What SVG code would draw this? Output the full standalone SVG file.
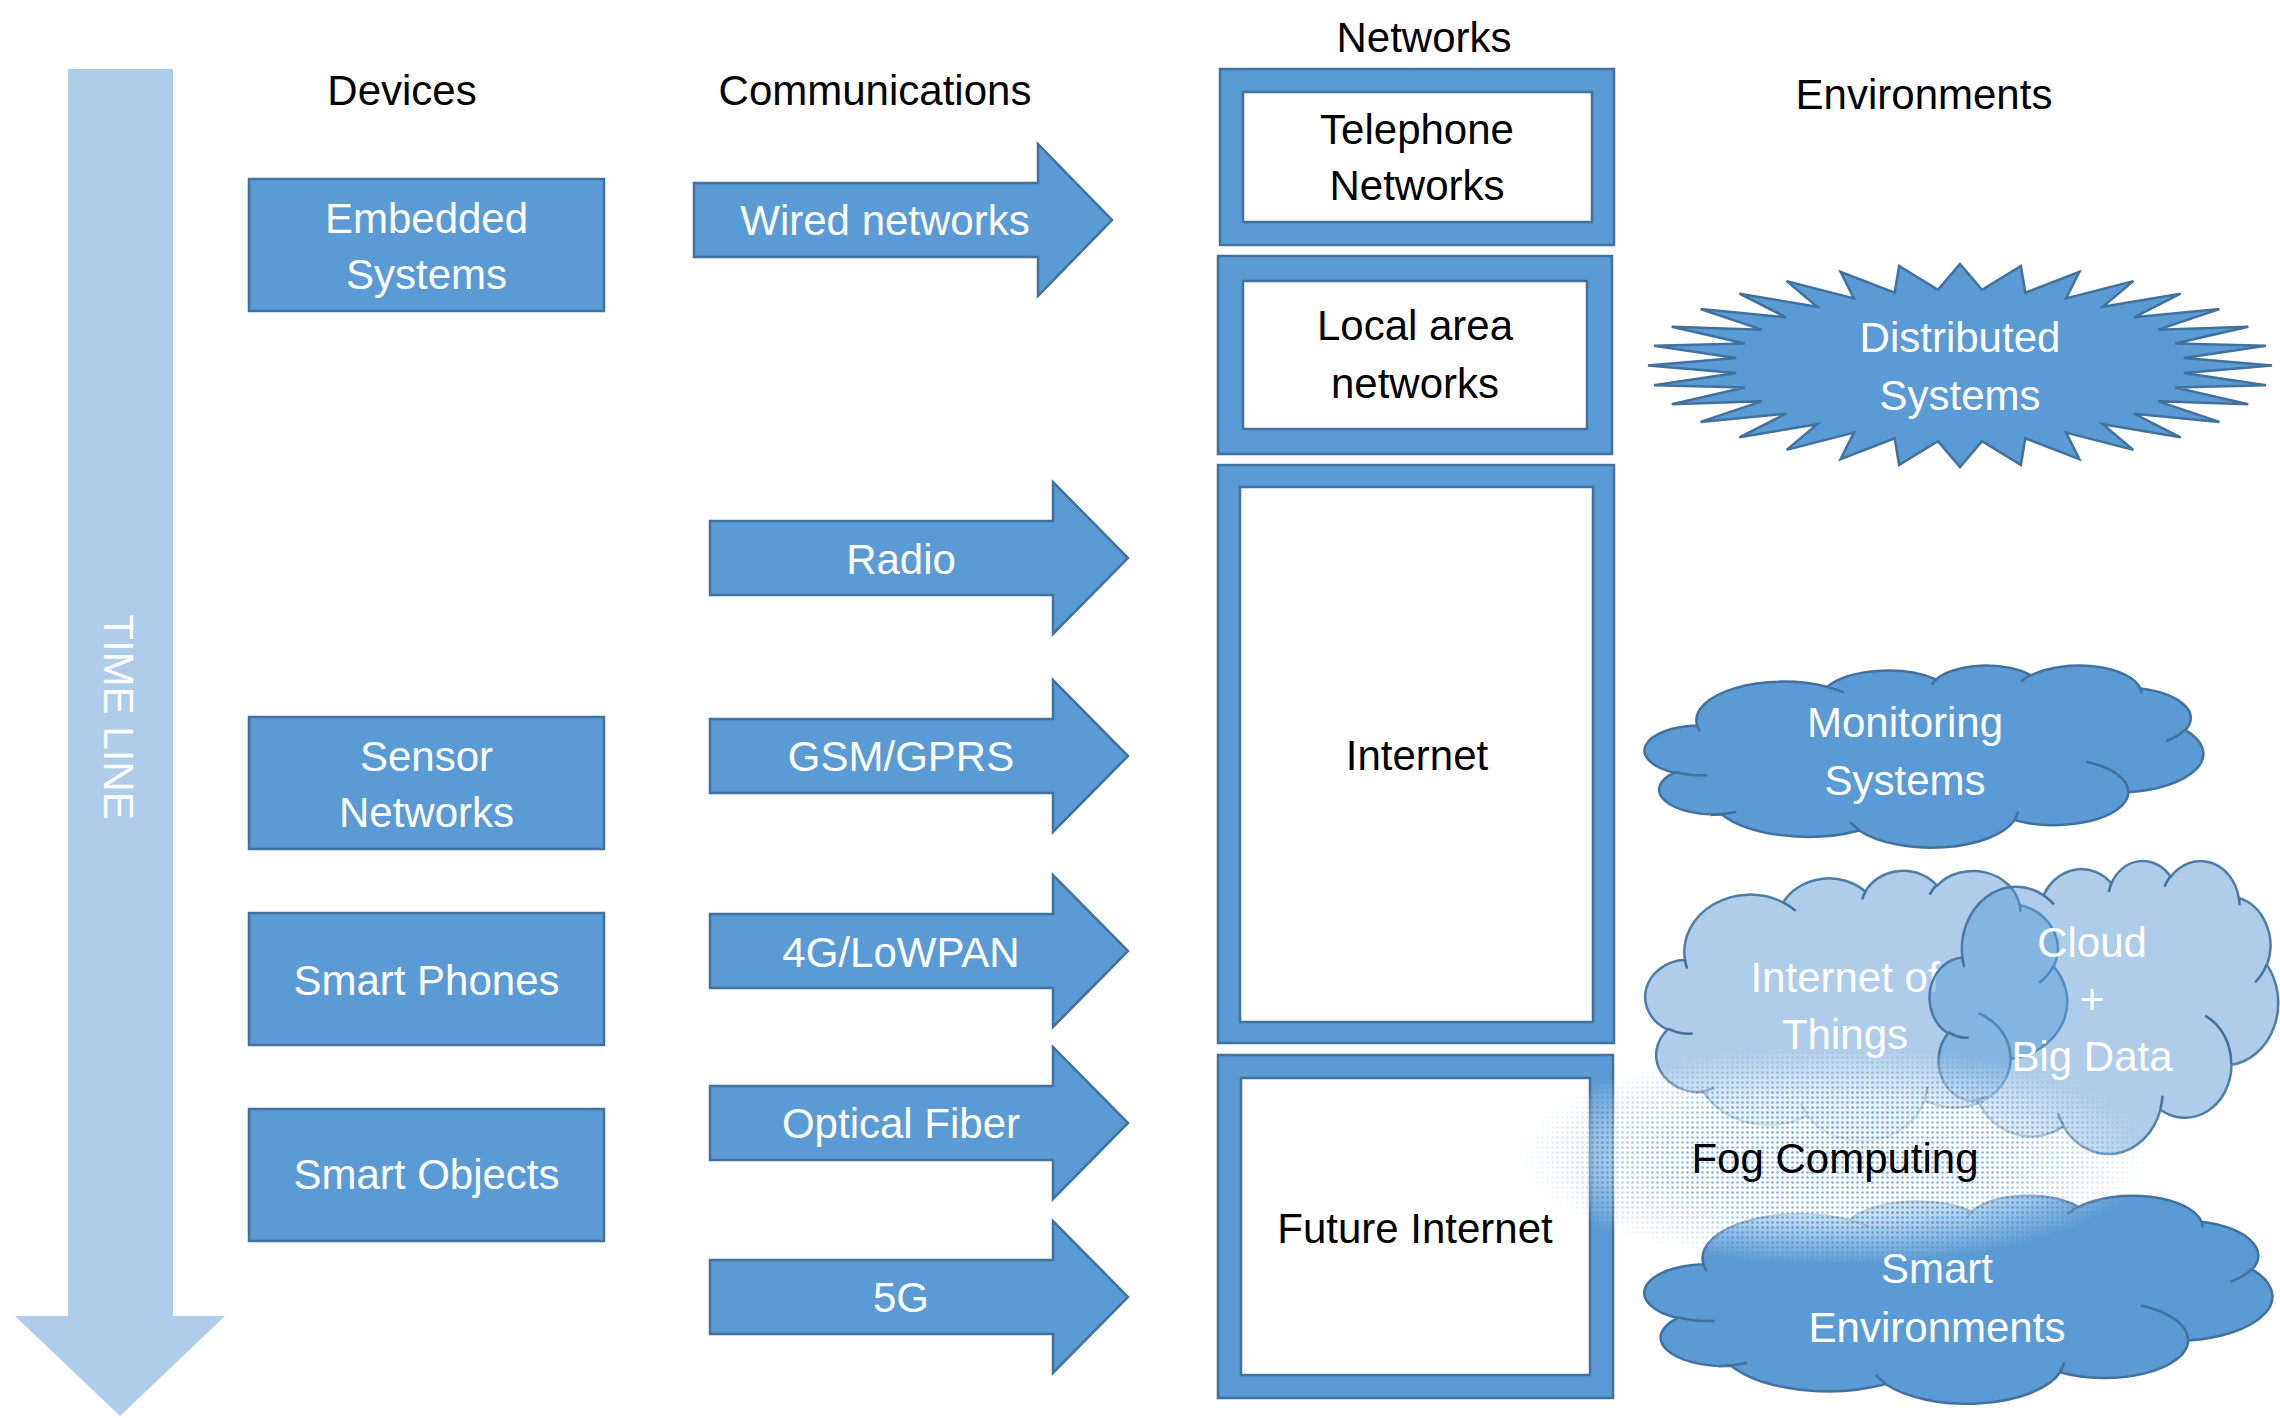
<svg xmlns="http://www.w3.org/2000/svg" width="2280" height="1418" viewBox="0 0 2280 1418">
<defs>
<style>
text{font-family:"Liberation Sans",Arial,sans-serif;font-size:42px;text-anchor:middle}
.blk{fill:#000}
.wt{fill:#fff}
.shape{fill:#5B9BD5;stroke:#41719C;stroke-width:2.5}
.inner{fill:#fff;stroke:#41719C;stroke-width:2.5}
.cloud{fill:#5B9BD5;stroke:#41719C;stroke-width:2.5}
.cloudlt{fill:#5B9BD5;fill-opacity:0.5;stroke:#41719C;stroke-opacity:0.9;stroke-width:2.5}
.cl-in{fill:none;stroke:#41719C;stroke-width:2.5}
</style>
<pattern id="fogdots" width="5" height="5" patternUnits="userSpaceOnUse">
<rect width="5" height="5" fill="#ffffff"/>
<circle cx="2.5" cy="2.5" r="1.3" fill="#5B9BD5"/>
</pattern>
<radialGradient id="foggrad" cx="0.5" cy="0.5" r="0.5">
<stop offset="0" stop-color="#fff" stop-opacity="0.9"/>
<stop offset="0.55" stop-color="#fff" stop-opacity="0.7"/>
<stop offset="1" stop-color="#fff" stop-opacity="0"/>
</radialGradient>
<mask id="fogmask" maskUnits="userSpaceOnUse" x="1400" y="1000" width="880" height="330">
<ellipse cx="1835" cy="1155" rx="320" ry="110" fill="url(#foggrad)"/>
</mask>
</defs>
<rect width="2280" height="1418" fill="#fff"/>

<g id="timeline">
<path d="M68,69 H173 V1316 H225 L120,1416 L15,1316 H68 Z" fill="#ADCDEA"/>
<text class="wt" font-size="39" transform="translate(104,717) rotate(90)">TIME LINE</text>
</g>

<g id="headers">
<text class="blk" x="402" y="105">Devices</text>
<text class="blk" x="875" y="105">Communications</text>
<text class="blk" x="1424" y="52">Networks</text>
<text class="blk" x="1924" y="109">Environments</text>
</g>

<g id="embedded-systems">
<rect class="shape" x="249" y="179" width="355" height="132"/>
<text class="wt" x="426.5" y="233">Embedded</text>
<text class="wt" x="426.5" y="289">Systems</text>
</g>
<g id="sensor-networks">
<rect class="shape" x="249" y="717" width="355" height="132"/>
<text class="wt" x="426.5" y="771">Sensor</text>
<text class="wt" x="426.5" y="827">Networks</text>
</g>
<g id="smart-phones">
<rect class="shape" x="249" y="913" width="355" height="132"/>
<text class="wt" x="426.5" y="995">Smart Phones</text>
</g>
<g id="smart-objects">
<rect class="shape" x="249" y="1109" width="355" height="132"/>
<text class="wt" x="426.5" y="1189">Smart Objects</text>
</g>

<g id="connectors">
<g id="wired-networks">
<path class="shape" d="M694,183 H1038 V144 L1112,220 L1038,296 V257 H694 Z"/>
<text class="wt" x="885" y="235">Wired networks</text>
</g>
<g id="radio">
<path class="shape" d="M710,521 H1053 V482 L1128,558 L1053,634 V595 H710 Z"/>
<text class="wt" x="901" y="574">Radio</text>
</g>
<g id="gsm-gprs">
<path class="shape" d="M710,719 H1053 V680 L1128,756 L1053,832 V793 H710 Z"/>
<text class="wt" x="901" y="771">GSM/GPRS</text>
</g>
<g id="4g-lowpan">
<path class="shape" d="M710,914 H1053 V875 L1128,951 L1053,1027 V988 H710 Z"/>
<text class="wt" x="901" y="967">4G/LoWPAN</text>
</g>
<g id="optical-fiber">
<path class="shape" d="M710,1086 H1053 V1047 L1128,1123 L1053,1199 V1160 H710 Z"/>
<text class="wt" x="901" y="1138">Optical Fiber</text>
</g>
<g id="5g">
<path class="shape" d="M710,1260 H1053 V1221 L1128,1297 L1053,1373 V1334 H710 Z"/>
<text class="wt" x="901" y="1312">5G</text>
</g>
</g>

<g id="telephone-networks">
<rect class="shape" x="1220" y="69" width="394" height="176"/>
<rect class="inner" x="1243" y="92" width="349" height="130"/>
<text class="blk" x="1417" y="144">Telephone</text>
<text class="blk" x="1417" y="200">Networks</text>
</g>
<g id="local-area-networks">
<rect class="shape" x="1218" y="256" width="394" height="198"/>
<rect class="inner" x="1243" y="281" width="344" height="148"/>
<text class="blk" x="1415" y="340">Local area</text>
<text class="blk" x="1415" y="398">networks</text>
</g>
<g id="internet">
<rect class="shape" x="1218" y="465" width="396" height="578"/>
<rect class="inner" x="1240" y="487" width="353" height="535"/>
<text class="blk" x="1417" y="770">Internet</text>
</g>
<g id="future-internet">
<rect class="shape" x="1218" y="1055" width="395" height="343"/>
<rect class="inner" x="1241" y="1078" width="349" height="297"/>
<text class="blk" x="1415" y="1243">Future Internet</text>
</g>

<g id="distributed-systems">
<path class="shape" d="M1960,264 L1982.05,289.87 L2020.87,265.95 L2025.31,292.77 L2079.4,271.73 L2066.07,298.47 L2133.34,281.11 L2102.74,306.75 L2180.62,293.73 L2133.93,317.29 L2219.42,309.11 L2158.43,329.67 L2248.25,326.66 L2175.31,343.44 L2266.01,345.7 L2183.92,358.05 L2272,365.5 L2183.92,372.95 L2266.01,385.3 L2175.31,387.56 L2248.25,404.34 L2158.43,401.33 L2219.42,421.89 L2133.93,413.71 L2180.62,437.27 L2102.74,424.25 L2133.34,449.89 L2066.07,432.53 L2079.4,459.27 L2025.31,438.23 L2020.87,465.05 L1982.05,441.13 L1960,467 L1937.95,441.13 L1899.13,465.05 L1894.69,438.23 L1840.6,459.27 L1853.93,432.53 L1786.66,449.89 L1817.26,424.25 L1739.38,437.27 L1786.07,413.71 L1700.58,421.89 L1761.57,401.33 L1671.75,404.34 L1744.69,387.56 L1653.99,385.3 L1736.08,372.95 L1648,365.5 L1736.08,358.05 L1653.99,345.7 L1744.69,343.44 L1671.75,326.66 L1761.57,329.67 L1700.58,309.11 L1786.07,317.29 L1739.38,293.73 L1817.26,306.75 L1786.66,281.11 L1853.93,298.47 L1840.6,271.73 L1894.69,292.77 L1899.13,265.95 L1937.95,289.87 Z"/>
<text class="wt" x="1960" y="352">Distributed</text>
<text class="wt" x="1960" y="410">Systems</text>
</g>

<g id="monitoring-systems">
<g transform="translate(1647,665) scale(5.56,1.82)">
<path class="cloud" vector-effect="non-scaling-stroke" d="M9.03,33.26 A15.63,21.27 0 0 1 32.42,12.04 A12.34,16.82 0 0 1 51.99,7.95 A10.1,13.76 0 0 1 69.07,5.75 A11.24,15.27 0 0 1 88.71,12.91 A12.34,16.84 0 0 1 96.82,35.79 A15.68,21.34 0 0 1 86.6,69.92 A13.39,18.21 0 0 1 66.11,85.22 A15.63,21.33 0 0 1 38.16,90.9 A17.87,24.41 0 0 1 13.45,82.11 A10.09,13.7 0 0 1 4.9,59.15 A10.06,13.76 0 0 1 9.03,33.26 Z"/>
<path class="cl-in" vector-effect="non-scaling-stroke" d="M10.86,60.59 A10.06,13.76 0 0 1 5,58.75 M16.04,80.78 A17.87,24.41 0 0 1 11.47,82.38 M38.14,90.49 A15.63,21.33 0 0 1 36.6,86.46 M66.73,80.44 A15.63,21.33 0 0 1 66.11,84.86 M79,53.13 A13.39,18.21 0 0 1 86.53,69.65 M96.75,35.54 A12.34,16.84 0 0 1 93.4,41.74 M88.71,12.56 A11.24,15.27 0 0 1 88.89,15.48 M67.31,9.15 A11.24,15.27 0 0 1 69.03,5.42 M51.25,10.93 A10.1,13.76 0 0 1 52.08,7.71 M32.41,12.02 A15.63,21.27 0 0 1 35.42,15.15 M9.55,36.55 A15.63,21.27 0 0 1 9.03,33.26"/>
</g>
<text class="wt" x="1905" y="737">Monitoring</text>
<text class="wt" x="1905" y="795">Systems</text>
</g>

<g id="internet-of-things">
<g transform="translate(1647,870) scale(4.2,2.7)">
<path class="cloudlt" vector-effect="non-scaling-stroke" d="M9.03,33.26 A15.63,21.27 0 0 1 32.42,12.04 A12.34,16.82 0 0 1 51.99,7.95 A10.1,13.76 0 0 1 69.07,5.75 A11.24,15.27 0 0 1 88.71,12.91 A12.34,16.84 0 0 1 96.82,35.79 A15.68,21.34 0 0 1 86.6,69.92 A13.39,18.21 0 0 1 66.11,85.22 A15.63,21.33 0 0 1 38.16,90.9 A17.87,24.41 0 0 1 13.45,82.11 A10.09,13.7 0 0 1 4.9,59.15 A10.06,13.76 0 0 1 9.03,33.26 Z"/>
<path class="cl-in" vector-effect="non-scaling-stroke" d="M10.86,60.59 A10.06,13.76 0 0 1 5,58.75 M16.04,80.78 A17.87,24.41 0 0 1 11.47,82.38 M38.14,90.49 A15.63,21.33 0 0 1 36.6,86.46 M66.73,80.44 A15.63,21.33 0 0 1 66.11,84.86 M79,53.13 A13.39,18.21 0 0 1 86.53,69.65 M96.75,35.54 A12.34,16.84 0 0 1 93.4,41.74 M88.71,12.56 A11.24,15.27 0 0 1 88.89,15.48 M67.31,9.15 A11.24,15.27 0 0 1 69.03,5.42 M51.25,10.93 A10.1,13.76 0 0 1 52.08,7.71 M32.41,12.02 A15.63,21.27 0 0 1 35.42,15.15 M9.55,36.55 A15.63,21.27 0 0 1 9.03,33.26"/>
</g>
<text class="wt" x="1845" y="992">Internet of</text>
<text class="wt" x="1845" y="1049">Things</text>
</g>

<g id="cloud-big-data">
<g transform="translate(1931,860) scale(3.47,2.93)">
<path class="cloudlt" vector-effect="non-scaling-stroke" d="M9.03,33.26 A15.63,21.27 0 0 1 32.42,12.04 A12.34,16.82 0 0 1 51.99,7.95 A10.1,13.76 0 0 1 69.07,5.75 A11.24,15.27 0 0 1 88.71,12.91 A12.34,16.84 0 0 1 96.82,35.79 A15.68,21.34 0 0 1 86.6,69.92 A13.39,18.21 0 0 1 66.11,85.22 A15.63,21.33 0 0 1 38.16,90.9 A17.87,24.41 0 0 1 13.45,82.11 A10.09,13.7 0 0 1 4.9,59.15 A10.06,13.76 0 0 1 9.03,33.26 Z"/>
<path class="cl-in" vector-effect="non-scaling-stroke" d="M10.86,60.59 A10.06,13.76 0 0 1 5,58.75 M16.04,80.78 A17.87,24.41 0 0 1 11.47,82.38 M38.14,90.49 A15.63,21.33 0 0 1 36.6,86.46 M66.73,80.44 A15.63,21.33 0 0 1 66.11,84.86 M79,53.13 A13.39,18.21 0 0 1 86.53,69.65 M96.75,35.54 A12.34,16.84 0 0 1 93.4,41.74 M88.71,12.56 A11.24,15.27 0 0 1 88.89,15.48 M67.31,9.15 A11.24,15.27 0 0 1 69.03,5.42 M51.25,10.93 A10.1,13.76 0 0 1 52.08,7.71 M32.41,12.02 A15.63,21.27 0 0 1 35.42,15.15 M9.55,36.55 A15.63,21.27 0 0 1 9.03,33.26"/>
</g>
<text class="wt" x="2092" y="957">Cloud</text>
<text class="wt" x="2092" y="1014">+</text>
<text class="wt" x="2092" y="1071">Big Data</text>
</g>

<g id="smart-environments">
<g transform="translate(1647,1195) scale(6.25,2.08)">
<path class="cloud" vector-effect="non-scaling-stroke" d="M9.03,33.26 A15.63,21.27 0 0 1 32.42,12.04 A12.34,16.82 0 0 1 51.99,7.95 A10.1,13.76 0 0 1 69.07,5.75 A11.24,15.27 0 0 1 88.71,12.91 A12.34,16.84 0 0 1 96.82,35.79 A15.68,21.34 0 0 1 86.6,69.92 A13.39,18.21 0 0 1 66.11,85.22 A15.63,21.33 0 0 1 38.16,90.9 A17.87,24.41 0 0 1 13.45,82.11 A10.09,13.7 0 0 1 4.9,59.15 A10.06,13.76 0 0 1 9.03,33.26 Z"/>
<path class="cl-in" vector-effect="non-scaling-stroke" d="M10.86,60.59 A10.06,13.76 0 0 1 5,58.75 M16.04,80.78 A17.87,24.41 0 0 1 11.47,82.38 M38.14,90.49 A15.63,21.33 0 0 1 36.6,86.46 M66.73,80.44 A15.63,21.33 0 0 1 66.11,84.86 M79,53.13 A13.39,18.21 0 0 1 86.53,69.65 M96.75,35.54 A12.34,16.84 0 0 1 93.4,41.74 M88.71,12.56 A11.24,15.27 0 0 1 88.89,15.48 M67.31,9.15 A11.24,15.27 0 0 1 69.03,5.42 M51.25,10.93 A10.1,13.76 0 0 1 52.08,7.71 M32.41,12.02 A15.63,21.27 0 0 1 35.42,15.15 M9.55,36.55 A15.63,21.27 0 0 1 9.03,33.26"/>
</g>
<text class="wt" x="1937" y="1283">Smart</text>
<text class="wt" x="1937" y="1342">Environments</text>
</g>

<g id="fog-computing">
<rect x="1400" y="1000" width="880" height="330" fill="url(#fogdots)" mask="url(#fogmask)"/>
<text class="blk" x="1835" y="1173">Fog Computing</text>
</g>
</svg>
